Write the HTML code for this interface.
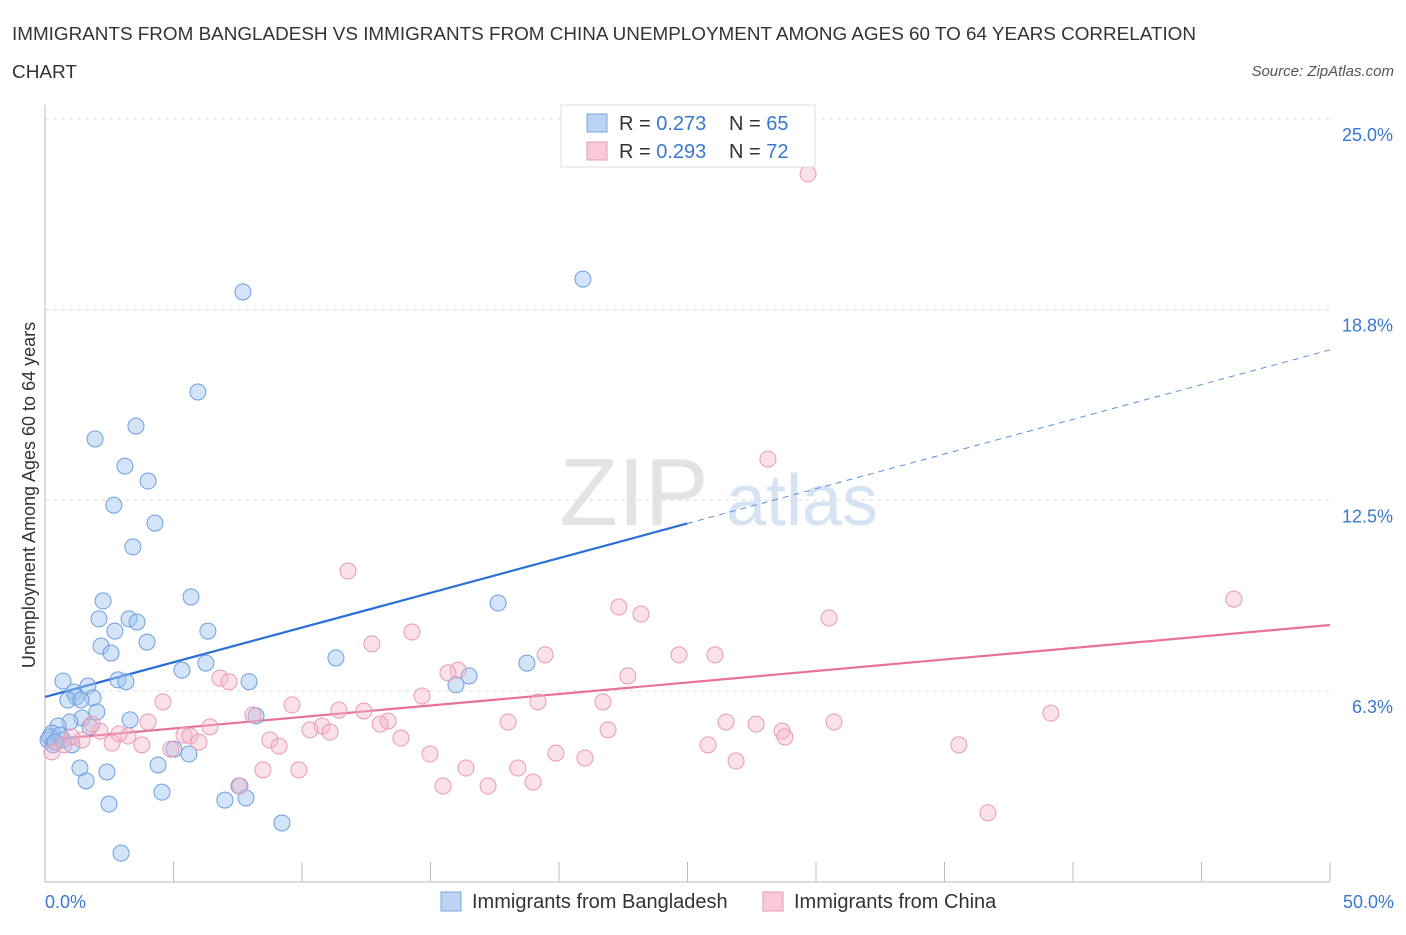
<!DOCTYPE html>
<html><head><meta charset="utf-8"><style>
body{margin:0;background:#fff;font-family:"Liberation Sans",sans-serif;}
svg text{font-family:"Liberation Sans",sans-serif;}
</style></head><body>
<svg id="chart" width="1406" height="930">
<text x="12" y="40" font-size="18" fill="#333" textLength="1184" lengthAdjust="spacingAndGlyphs">IMMIGRANTS FROM BANGLADESH VS IMMIGRANTS FROM CHINA UNEMPLOYMENT AMONG AGES 60 TO 64 YEARS CORRELATION</text>
<text x="12" y="78" font-size="18" fill="#333" textLength="65" lengthAdjust="spacingAndGlyphs">CHART</text>
<text x="1394" y="76" font-size="15" fill="#555" text-anchor="end" font-style="italic">Source: ZipAtlas.com</text>
<g>
<text x="634" y="525" font-size="96" fill="#e3e3e3" text-anchor="middle" font-family="Liberation Serif, serif">ZIP</text>
<text x="802" y="525" font-size="72" fill="#d6e3f4" text-anchor="middle">atlas</text>
</g>
<g id="grid"></g>
<g id="axes"></g>
<g id="lines"></g>
<g id="pts"></g>
<text x="35" y="495" font-size="18" fill="#333" text-anchor="middle" transform="rotate(-90 35 495)">Unemployment Among Ages 60 to 64 years</text>
<text x="45" y="908" font-size="18" fill="#3a78d0">0.0%</text>
<text x="1394" y="908" font-size="18" fill="#3a78d0" text-anchor="end">50.0%</text>
<g>
<rect x="561" y="105" width="254" height="62" fill="#fff" stroke="#ddd"/>
<rect x="587" y="114" width="20" height="18" fill="#bcd3f3" stroke="#7aa6e0"/>
<text x="619" y="130" font-size="20" fill="#333">R = <tspan fill="#3a78d0">0.273</tspan></text>
<text x="729" y="130" font-size="20" fill="#333">N = <tspan fill="#3a78d0">65</tspan></text>
<rect x="587" y="142" width="20" height="18" fill="#f8c9d7" stroke="#e89ab3"/>
<text x="619" y="158" font-size="20" fill="#333">R = <tspan fill="#3a78d0">0.293</tspan></text>
<text x="729" y="158" font-size="20" fill="#333">N = <tspan fill="#3a78d0">72</tspan></text>
</g>
<g>
<rect x="441" y="892" width="20" height="19" fill="#bcd3f3" stroke="#7aa6e0"/>
<text x="472" y="908" font-size="20" fill="#333">Immigrants from Bangladesh</text>
<rect x="763" y="892" width="20" height="19" fill="#f8c9d7" stroke="#e89ab3"/>
<text x="794" y="908" font-size="20" fill="#333">Immigrants from China</text>
</g>
</svg>
<script>
const yTicks=[25,18.75,12.5,6.25];
const yTickLabels=["25.0%","18.8%","12.5%","6.3%"];
const xTicks=[0,5,10,15,20,25,30,35,40,45,50];
const blueX=[7.70,20.93,5.95,1.95,3.54,3.11,4.01,2.68,4.28,3.42,2.26,5.68,2.10,3.27,3.58,2.72,6.34,2.18,3.97,2.57,5.33,6.26,11.32,18.75,17.63,16.50,15.99,7.94,2.84,3.15,0.70,1.67,1.13,1.21,1.87,0.89,1.40,2.02,3.31,1.44,8.21,1.75,0.97,0.51,0.27,0.12,0.31,0.70,1.05,4.40,1.36,2.41,1.60,5.02,5.60,4.55,7.55,7.82,7.00,2.49,9.22,2.96,0.19,0.58,0.39];
const blueY=[19.33,19.75,16.05,14.51,14.93,13.62,13.13,12.34,11.75,10.97,9.20,9.33,8.61,8.61,8.51,8.21,8.21,7.72,7.85,7.49,6.93,7.16,7.33,7.16,9.13,6.74,6.45,6.55,6.61,6.55,6.57,6.41,6.21,6.05,6.02,5.95,5.95,5.56,5.30,5.36,5.43,5.07,5.23,5.10,4.87,4.64,4.48,4.64,4.48,3.82,3.72,3.59,3.30,4.34,4.18,2.93,3.13,2.74,2.67,2.54,1.92,0.93,4.74,4.80,4.57];
const pinkX=[29.69,28.13,11.79,46.26,22.33,23.19,30.51,14.28,12.72,19.46,24.67,26.07,16.07,15.68,22.68,6.81,7.16,14.67,19.18,21.71,4.59,9.61,11.44,12.41,39.14,8.09,4.01,6.42,18.02,13.35,13.04,10.78,26.50,27.67,30.70,10.31,11.09,21.91,2.14,28.68,1.83,5.41,5.64,3.23,1.05,2.88,8.75,13.85,5.99,9.11,2.61,3.77,4.90,25.80,28.79,35.56,14.98,19.88,21.01,0.74,0.27,8.48,9.88,16.38,18.40,26.89,7.59,15.49,17.24,18.99,36.69,1.44];
const pinkY=[23.20,13.85,10.18,9.26,9.00,8.77,8.64,8.18,7.79,7.43,7.43,7.43,6.93,6.84,6.74,6.67,6.55,6.08,5.89,5.89,5.89,5.79,5.62,5.59,5.52,5.46,5.23,5.07,5.23,5.26,5.16,5.10,5.23,5.16,5.23,4.97,4.90,4.97,4.93,4.93,5.16,4.80,4.77,4.77,4.74,4.84,4.64,4.70,4.57,4.44,4.54,4.48,4.34,4.48,4.74,4.48,4.18,4.21,4.05,4.48,4.25,3.66,3.66,3.72,3.72,3.95,3.13,3.13,3.13,3.26,2.25,4.64];
const blueTrend=[6.05,17.43];
const pinkTrend=[4.64,8.41];
const NS="http://www.w3.org/2000/svg";
const X=v=>45+v*25.7;
const Y=v=>881.5-v*30.5;
function mk(tag,attrs,parent){const e=document.createElementNS(NS,tag);for(const k in attrs)e.setAttribute(k,attrs[k]);parent.appendChild(e);return e;}
const grid=document.getElementById('grid'),axes=document.getElementById('axes'),lines=document.getElementById('lines'),pts=document.getElementById('pts');
yTicks.forEach((t,i)=>{
 const l=mk('line',{x1:45,x2:1330,y1:Y(t),y2:Y(t),stroke:'#ddd','stroke-dasharray':'4 4'},grid);
 
 
 const tx=mk('text',{x:1393,y:Y(t)+22,'font-size':18,fill:'#3a78d0','text-anchor':'end'},grid);
 tx.textContent=yTickLabels[i];
 
 
});
const ya=mk('line',{x1:45,x2:45,y1:105,y2:882,stroke:'#bbb'},axes);


const xa=mk('line',{x1:45,x2:1330,y1:882,y2:882,stroke:'#bbb'},axes);


xTicks.forEach(t=>{
 const l=mk('line',{x1:X(t),x2:X(t),y1:862,y2:882,stroke:'#bbb'},axes);
 
 
});
const bx=24.99;
const bl=mk('line',{x1:X(0),y1:Y(blueTrend[0]),x2:X(bx),y2:Y(blueTrend[0]+(blueTrend[1]-blueTrend[0])*bx/50),stroke:'#2a6fd6','stroke-width':2.2},lines);


const bd=mk('line',{x1:X(bx),y1:Y(blueTrend[0]+(blueTrend[1]-blueTrend[0])*bx/50),x2:X(50),y2:Y(blueTrend[1]),stroke:'#5a90dc','stroke-width':1,'stroke-dasharray':'6 5'},lines);


const pl=mk('line',{x1:X(0),y1:Y(pinkTrend[0]),x2:X(50),y2:Y(pinkTrend[1]),stroke:'#e8719a','stroke-width':2.2},lines);


blueX.forEach((v,i)=>{
 const c=mk('circle',{cx:X(v),cy:Y(blueY[i]),r:8,fill:'rgba(160,195,240,0.45)',stroke:'#6d9ee0','stroke-width':1},pts);
 
 
});
pinkX.forEach((v,i)=>{
 const c=mk('circle',{cx:X(v),cy:Y(pinkY[i]),r:8,fill:'rgba(245,180,200,0.4)',stroke:'#e99ab4','stroke-width':1},pts);
 
 
});
</script>
</body></html>
